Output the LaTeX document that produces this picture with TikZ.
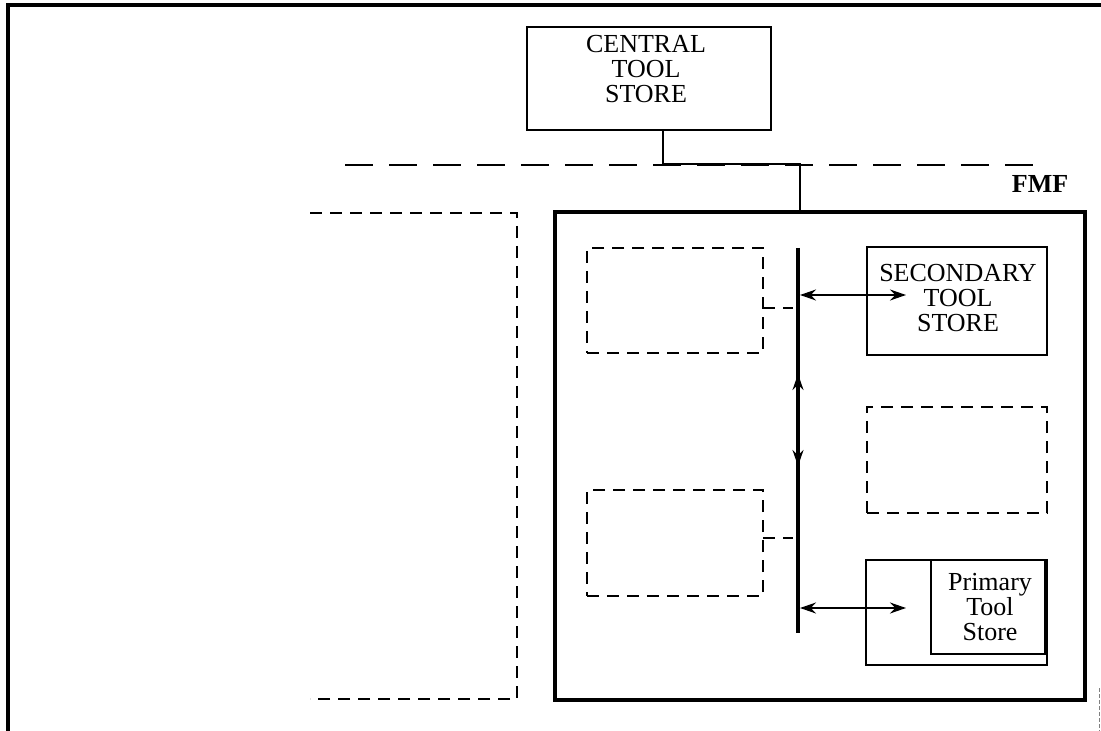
\documentclass[tikz,border=0pt]{standalone}
\usepackage{fontspec}
\setmainfont{Liberation Serif}
\usetikzlibrary{arrows.meta}
\begin{document}
\begin{tikzpicture}[x=0.5pt,y=-0.5pt,
  solidbox/.style={draw,line width=1.1pt,inner sep=0pt,rectangle},
  dashbox/.style={draw,line width=1.3pt,dash pattern=on 6pt off 4pt,inner sep=0pt,rectangle},
  dsh/.style={line width=1.3pt,dash pattern=on 6pt off 4pt},
  fmfdash/.style={line width=1.3pt,dash pattern=on 14pt off 8pt},
  lbl/.style={align=center,inner sep=0pt,font=\fontsize{13}{12.4}\selectfont},
  arr/.style={line width=0.9pt,{Stealth[length=8pt,width=5.5pt]}-{Stealth[length=8pt,width=5.5pt]}},
  tip/.style={line width=0.9pt,-{Stealth[length=8pt,width=5.5pt]}}]
\useasboundingbox (0,0) rectangle (1101,731);
% outer frame
\coordinate (fr1) at (8,731);
\coordinate (fr2) at (8,5);
\coordinate (fr3) at (1101,5);
\draw[line width=1.7pt] (fr1) -- (fr2) -- (fr3);
\coordinate (fr4) at (1099,688);
\coordinate (fr5) at (1099,731);
\draw[gray,line width=0.5pt,dash pattern=on 2pt off 1pt] (fr4) -- (fr5);
% central tool store
\node[solidbox,minimum width=122pt,minimum height=51.5pt] (ct) at (649,78.5) {};
\node[lbl] (ctt) at (646,69) {CENTRAL\\TOOL\\STORE};
% FMF dashed boundary
\coordinate (d1) at (345,165);
\coordinate (d2) at (1045,165);
\draw[fmfdash] (d1) -- (d2);
\node[lbl,font=\fontsize{13}{12.4}\selectfont\bfseries] (fmft) at (1040,184) {FMF};
% FMF box
\node[draw,line width=1.7pt,inner sep=0pt,minimum width=265pt,minimum height=244pt] (fmf) at (820,456) {};
% connection central -> FMF
\coordinate (j1) at (663,164);
\coordinate (j2) at (800,164);
\draw[line width=1.4pt] (j1 |- ct.south) -- (j1) -- (j2) -- (j2 |- fmf.north);
% neighbouring cell (dashed)
\coordinate (n1) at (310,213);
\coordinate (n2) at (517,213);
\coordinate (n3) at (517,699);
\coordinate (n4) at (310,699);
\draw[dsh] (n1) -- (n2) -- (n3) -- (n4);
% dashed machine boxes
\node[dashbox,minimum width=88pt,minimum height=52.5pt] (tl) at (675,300.5) {};
\node[dashbox,minimum width=88pt,minimum height=53pt] (bl) at (675,543) {};
\node[dashbox,minimum width=90pt,minimum height=53pt] (rm) at (957,460) {};
% secondary tool store
\node[solidbox,minimum width=90pt,minimum height=54pt] (st) at (957,301) {};
\node[lbl] (stt) at (958,298) {SECONDARY\\TOOL\\STORE};
% primary tool store
\node[solidbox,minimum width=90.5pt,minimum height=52.5pt] (pt) at (956.5,612.5) {};
\node[solidbox,minimum width=57pt,minimum height=47pt] (pti) at (988,607) {};
\node[lbl] (ptt) at (990,607) {Primary\\Tool\\Store};
% bus
\coordinate (bt) at (798,248);
\coordinate (bb) at (798,633);
\draw[line width=1.7pt] (bt) -- (bb);
\coordinate (bu1) at (798,395);
\coordinate (bu2) at (798,374);
\coordinate (bd1) at (798,445);
\coordinate (bd2) at (798,466);
\draw[tip] (bu1) -- (bu2);
\draw[tip] (bd1) -- (bd2);
% stubs from dashed boxes to bus
\coordinate (s1) at (763,308);
\coordinate (s1e) at (793,308);
\draw[dsh] (s1) -- (s1e);
\coordinate (s2) at (763,538);
\coordinate (s2e) at (793,538);
\draw[dsh] (s2) -- (s2e);
% double arrows bus <-> stores
\coordinate (a1) at (800,295);
\coordinate (a1e) at (906,295);
\draw[arr] (a1) -- (a1e);
\coordinate (a2) at (800,608);
\coordinate (a2e) at (906,608);
\draw[arr] (a2) -- (a2e);
\end{tikzpicture}
\end{document}
